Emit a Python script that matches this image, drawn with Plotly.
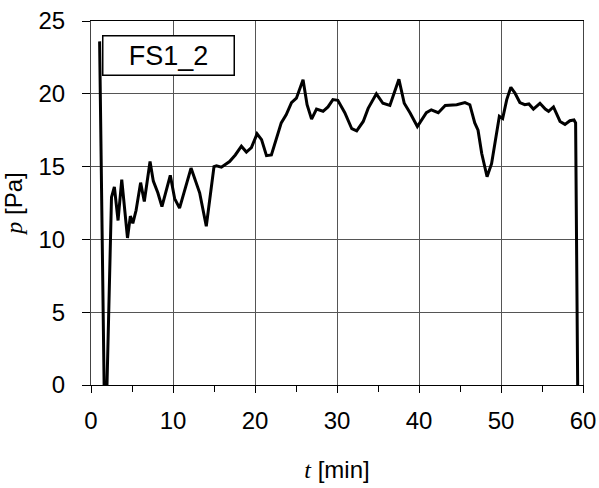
import plotly.graph_objects as go

t_min = [1.05, 1.6, 1.95, 2.5, 2.85, 3.3, 3.75, 4.45, 4.8, 5.1,
         5.5, 6.05, 6.5, 7.2, 7.6, 8.15, 8.65, 9.67, 10.2, 10.8,
         12.2, 13.25, 14.06, 14.5, 15.0, 15.3, 15.9, 16.9, 17.6, 18.34,
         18.95, 19.56, 20.25, 20.8, 21.4, 22.0, 23.2, 23.8, 24.45, 25.05,
         25.86, 26.35, 26.9, 27.5, 28.3, 28.9, 29.5, 30.1, 30.95, 31.8,
         32.4, 33.2, 33.8, 34.8, 35.6, 36.45, 37.55, 38.2, 38.9, 39.8,
         40.9, 41.5, 42.35, 43.2, 44.6, 45.6, 46.2, 46.8, 47.2, 47.65,
         48.3, 48.85, 49.5, 49.8, 50.2, 50.7, 51.2, 51.7, 52.3, 52.9,
         53.4, 53.95, 54.75, 55.4, 55.8, 56.4, 57.2, 57.8, 58.4, 58.9,
         59.1, 59.35]

p_pa = [23.6, 0, 0, 12.9, 13.6, 11.3, 14.1, 10.1, 11.6, 11.1,
        12.0, 13.9, 12.6, 15.35, 14.0, 13.2, 12.25, 14.4, 12.8, 12.15,
        14.9, 13.2, 10.9, 13.0, 15.0, 15.05, 14.96, 15.35, 15.8, 16.4,
        16.0, 16.3, 17.25, 16.85, 15.75, 15.8, 18.0, 18.55, 19.4, 19.7,
        20.96, 19.25, 18.26, 18.95, 18.8, 19.1, 19.6, 19.55, 18.7, 17.6,
        17.45, 18.1, 19.0, 20.0, 19.35, 19.2, 21.0, 19.35, 18.7, 17.75,
        18.7, 18.9, 18.7, 19.2, 19.25, 19.4, 19.25, 18.0, 17.5, 15.9,
        14.3, 15.2, 17.5, 18.45, 18.3, 19.6, 20.45, 20.05, 19.4, 19.25,
        19.3, 18.95, 19.35, 18.95, 18.8, 19.1, 18.1, 17.9, 18.15, 18.2,
        18.0, 0]

x_ticks = [0, 10, 20, 30, 40, 50, 60]
y_ticks = [0, 5, 10, 15, 20, 25]
label = "FS1_2"

fig = go.Figure()
fig.add_trace(go.Scatter(x=t_min, y=p_pa, mode="lines",
                         line=dict(color="black", width=3),
                         showlegend=False, hoverinfo="skip"))

sans = "Liberation Sans, Arial, sans-serif"
font = dict(family=sans, size=24, color="black")

fig.update_layout(
    width=599, height=488,
    margin=dict(l=91, r=16, t=21, b=103),
    paper_bgcolor="white", plot_bgcolor="white",
    font=font,
    xaxis=dict(range=[0, 60], tickvals=x_ticks, ticks="outside", ticklen=7,
               tickcolor="black", showgrid=True, gridcolor="#555555", gridwidth=1,
               showline=True, linecolor="black", linewidth=1, mirror=True,
               zeroline=False, automargin=False, ticklabelstandoff=7,
               ticklabeloverflow="allow",
               minor=dict(dtick=5, tick0=0, ticks="outside", ticklen=6,
                          tickcolor="black", showgrid=False),
               title=dict(text='<span style="font-family:Liberation Serif"><i>t</i></span> [min]',
                          standoff=28, font=font),
               tickfont=font),
    yaxis=dict(range=[0, 25], tickvals=y_ticks, ticks="outside", ticklen=8,
               tickcolor="black", showgrid=True, gridcolor="#555555", gridwidth=1,
               showline=True, linecolor="#444444", linewidth=1, mirror=True,
               zeroline=False, automargin=False, ticklabelstandoff=12,
               ticklabeloverflow="allow",
               title=dict(text='<span style="font-family:Liberation Serif"><i>p</i></span> [Pa]',
                          standoff=10, font=font),
               tickfont=font),
    annotations=[dict(text=label, xref="paper", yref="paper",
                      x=0.158, y=0.904, xanchor="center", yanchor="middle",
                      showarrow=False, font=dict(family=sans, size=27, color="black"),
                      bgcolor="white", bordercolor="black", borderwidth=1.5,
                      width=128, height=36, borderpad=1)],
)

fig.write_html("out.html", config={"displayModeBar": False},
               post_script="document.body.style.margin='0';document.body.style.overflow='hidden';")
